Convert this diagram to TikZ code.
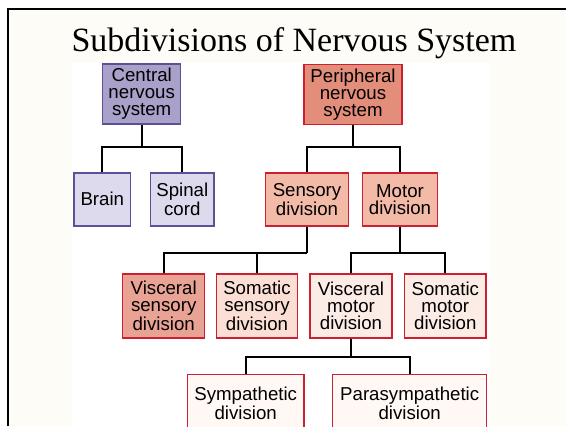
\documentclass[tikz,border=0pt]{standalone}
\usepackage{fontspec}
\setmainfont{Liberation Serif}
\newfontfamily\boxfont{Liberation Sans}
\definecolor{slidebg}{HTML}{FDFCF7}
\definecolor{cnsfill}{HTML}{A9A1C9}
\definecolor{cnsline}{HTML}{5C5098}
\definecolor{cnslight}{HTML}{DCDAEC}
\definecolor{pnsfill}{HTML}{E38E7B}
\definecolor{pnsline}{HTML}{CC1F2F}
\definecolor{divfill}{HTML}{F3BAA8}
\definecolor{vsensfill}{HTML}{E9A394}
\definecolor{ssensfill}{HTML}{FBDED4}
\definecolor{vmotfill}{HTML}{FCECE6}
\definecolor{symfill}{HTML}{FFF8F5}

\begin{document}
\begin{tikzpicture}[x=0.75pt,y=-0.75pt,
  division/.style={draw,line width=1.1pt,inner sep=0pt,align=center,
    font=\boxfont\fontsize{14}{12.8}\selectfont},
  cnsbox/.style={division,draw=cnsline},
  pnsbox/.style={division,draw=pnsline},
  link/.style={line width=1.5pt}]
\useasboundingbox (0,0) rectangle (566,426);
\fill[white] (0,0) rectangle (566,426);
\fill[slidebg] (8,9) rectangle (566,426);
\fill[white] (72,63) rectangle (490,426);
\draw[line width=1.5pt] (7.5,426) -- (7.5,8.5) -- (566,8.5);
\node[anchor=base,font=\fontsize{25.5}{30}\selectfont] (title) at (294,51.7) {Subdivisions of Nervous System};
% central side
\node[cnsbox,fill=cnsfill,minimum width=58.5pt,minimum height=45pt] (cns) at (141.7,94) {Central\\nervous\\system};
\node[cnsbox,fill=cnslight,minimum width=42.5pt,minimum height=39.75pt] (brain) at (102.3,199.3) {Brain};
\node[cnsbox,fill=cnslight,minimum width=47.5pt,minimum height=39.75pt] (spinal) at (182.3,199.3) {Spinal\\cord};
% peripheral side
\node[pnsbox,fill=pnsfill,minimum width=73.5pt,minimum height=45pt] (pns) at (353,94.3) {Peripheral\\nervous\\system};
\node[pnsbox,fill=divfill,minimum width=62.5pt,minimum height=39.75pt] (sens) at (307,199.3) {Sensory\\division};
\node[pnsbox,fill=divfill,minimum width=56pt,minimum height=39.75pt] (motor) at (400,199.3) {Motor\\division};
\node[pnsbox,fill=vsensfill,minimum width=61.5pt,minimum height=48pt] (vsens) at (163.7,306) {Visceral\\sensory\\division};
\node[pnsbox,fill=ssensfill,minimum width=60.5pt,minimum height=48pt] (ssens) at (257,306) {Somatic\\sensory\\division};
\node[pnsbox,fill=vmotfill,minimum width=61.5pt,minimum height=48pt] (vmot) at (351,306) {Visceral\\motor\\division};
\node[pnsbox,fill=vmotfill,minimum width=61pt,minimum height=48pt] (smot) at (445.3,306) {Somatic\\motor\\division};
\node[pnsbox,fill=symfill,minimum width=87.5pt,minimum height=42.75pt] (symp) at (245.7,403) {Sympathetic\\division};
\node[pnsbox,fill=symfill,minimum width=115.5pt,minimum height=42.75pt] (para) at (409.7,403) {Parasympathetic\\division};
% junctions
\coordinate (jcns) at (141.7,146.7);
\coordinate (jpns) at (353,146.7);
\coordinate (jsens) at (307,252.7);
\coordinate (jmot) at (400,252.7);
\coordinate (jvm) at (351,357.3);
\draw[link] (cns) -- (jcns);
\draw[link] (brain.north) |- (jcns) -| (spinal.north);
\draw[link] (pns) -- (jpns);
\draw[link] (sens.north) |- (jpns) -| (motor.north);
\draw[link] (sens) -- (jsens);
\draw[link] (vsens.north) |- (jsens);
\draw[link] (ssens.north) -- (ssens.north |- jsens);
\draw[link] (motor) -- (jmot);
\draw[link] (vmot.north) |- (jmot) -| (smot.north);
\draw[link] (vmot) -- (jvm);
\draw[link] (symp.north) |- (jvm) -| (para.north);
\end{tikzpicture}
\end{document}
